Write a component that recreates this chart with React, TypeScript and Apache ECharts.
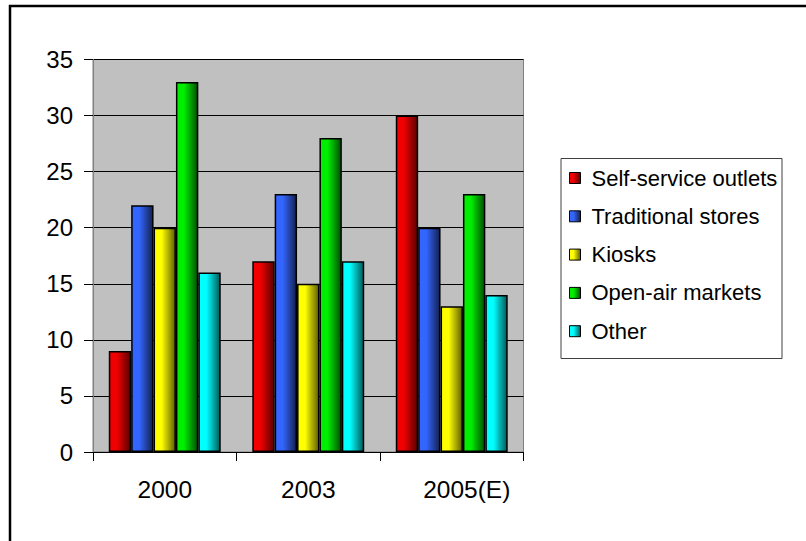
import React, { useEffect, useRef } from "react";
import * as echarts from "echarts";

const categories = ["2000", "2003", "2005(E)"];
const seriesNames = ["Self-service outlets", "Traditional stores", "Kiosks", "Open-air markets", "Other"];
const selfService = [9, 17, 30];
const traditional = [22, 23, 20];
const kiosks = [20, 15, 13];
const openAir = [33, 28, 23];
const other = [16, 17, 14];
const yTicks = { min: 0, max: 35, interval: 5 };

const seriesValues = [selfService, traditional, kiosks, openAir, other];
const brightColors = ["#F00000", "#3366FF", "#FFFF00", "#00EE00", "#00FFFF"];
const darkColors = ["#5A0000", "#14204F", "#5F5F00", "#004F00", "#005A5A"];

const FONT = "'Liberation Sans', Arial, sans-serif";

function grad(i: number) {
  return new echarts.graphic.LinearGradient(0, 0, 1, 0, [
    { offset: 0, color: brightColors[i] },
    { offset: 0.35, color: brightColors[i] },
    { offset: 1, color: darkColors[i] },
  ]);
}

export default function App() {
  const ref = useRef<HTMLDivElement>(null);
  useEffect(() => {
    if (!ref.current) return;
    const chart = echarts.init(ref.current, undefined, { renderer: "svg" });
    const catData = categories.map((c, i) =>
      i === categories.length - 1 ? { value: c, textStyle: { padding: [0, 0, 0, 30] } } : c
    );
    chart.setOption({
      animation: false,
      backgroundColor: "#FFFFFF",
      textStyle: { fontFamily: FONT },
      grid: {
        left: 93,
        top: 59.5,
        width: 430.5,
        height: 392.5,
        show: true,
        backgroundColor: "#C0C0C0",
        borderColor: "#808080",
        borderWidth: 1,
      },
      legend: {
        orient: "vertical",
        left: 564,
        top: 162,
        itemWidth: 11,
        itemHeight: 11,
        itemGap: 16.3,
        icon: "rect",
        data: seriesNames,
        itemStyle: { borderColor: "#000000", borderWidth: 1 },
        textStyle: { fontSize: 22, color: "#000000", fontFamily: FONT, padding: [0, 0, 0, 6] },
      },
      xAxis: {
        type: "category",
        data: catData,
        axisLine: { show: true, lineStyle: { color: "#000000", width: 1 } },
        axisTick: { show: true, length: 9, lineStyle: { color: "#000000" } },
        axisLabel: { fontSize: 24.5, color: "#000000", margin: 25, fontFamily: FONT },
        splitLine: { show: false },
      },
      yAxis: {
        type: "value",
        min: yTicks.min,
        max: yTicks.max,
        interval: yTicks.interval,
        axisLine: { show: true, lineStyle: { color: "#808080", width: 1 } },
        axisTick: { show: true, length: 9, lineStyle: { color: "#000000" } },
        axisLabel: { fontSize: 24, color: "#000000", margin: 20, fontFamily: FONT },
        splitLine: { show: true, lineStyle: { color: "#000000", width: 1 } },
      },
      series: seriesNames.map((name, i) => ({
        name,
        type: "bar",
        data: seriesValues[i],
        barGap: "0%",
        barCategoryGap: "22%",
        itemStyle: { color: grad(i), borderColor: "#000000", borderWidth: 1.5 },
      })),
      graphic: [
        {
          type: "rect",
          shape: { x: 561, y: 158.5, width: 221, height: 200 },
          style: { fill: "none", stroke: "#404040", lineWidth: 1 },
          z: 10,
        },
        {
          type: "rect",
          shape: { x: 10, y: 6, width: 900, height: 700 },
          style: { fill: "none", stroke: "#000000", lineWidth: 2.5 },
          z: 10,
        },
      ],
    });
    return () => chart.dispose();
  }, []);
  return <div ref={ref} style={{ width: 806, height: 541, position: "absolute", left: 0, top: 0 }} />;
}
